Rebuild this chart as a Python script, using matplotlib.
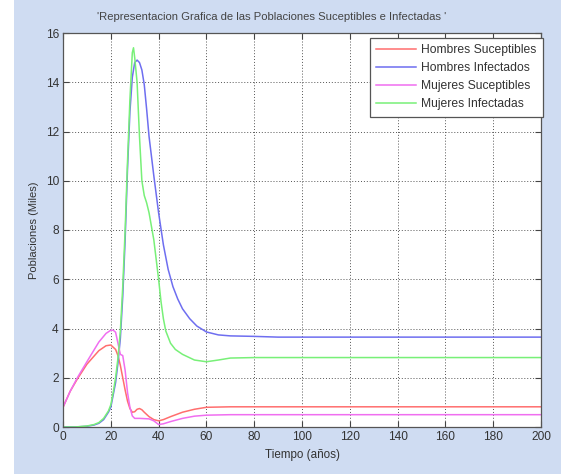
import numpy as np
import matplotlib
matplotlib.use("Agg")
import matplotlib.pyplot as plt
from matplotlib.patches import Rectangle

plt.rcParams['font.family'] = ['Liberation Sans', 'DejaVu Sans']

# Hombres Suceptibles: time (years) and population (thousands)
t_hs = [0, 3, 6, 10, 15, 18, 20, 22, 23, 24, 25, 26, 27, 28, 29, 30, 31, 32, 33, 34,
        36, 38, 40, 42, 45, 50, 55, 60, 70, 200]
hombres_suc = [0.8, 1.45, 1.95, 2.55, 3.1, 3.3, 3.33, 3.15, 2.9, 2.5, 2.0, 1.5, 1.05,
               0.75, 0.6, 0.62, 0.72, 0.75, 0.7, 0.6, 0.42, 0.3, 0.25, 0.3, 0.42, 0.6,
               0.72, 0.8, 0.82, 0.82]

# Hombres Infectados
t_hi = [0, 5, 10, 13, 15, 17, 19, 20, 21, 22, 23, 24, 25, 26, 27, 28, 29, 30, 31, 32,
        33, 34, 35, 36, 38, 40, 42, 44, 46, 48, 50, 53, 56, 60, 65, 70, 80, 90, 200]
hombres_inf = [0.0, 0.0, 0.03, 0.08, 0.15, 0.3, 0.6, 0.8, 1.3, 1.8, 2.6, 3.6, 5.3, 7.6,
               10.5, 12.8, 14.2, 14.8, 14.9, 14.8, 14.5, 13.9, 12.9, 11.8, 10.2, 8.7,
               7.4, 6.4, 5.7, 5.2, 4.8, 4.4, 4.1, 3.86, 3.74, 3.7, 3.68, 3.65, 3.65]

# Mujeres Suceptibles
t_ms = [0, 3, 6, 10, 15, 18, 20, 21, 22, 23, 24, 25, 26, 27, 28, 29, 30, 32, 34, 36,
        38, 40, 42, 45, 50, 55, 60, 70, 200]
mujeres_suc = [0.8, 1.45, 2.0, 2.65, 3.45, 3.8, 3.93, 3.93, 3.85, 3.4, 2.95, 2.9, 2.3,
               1.4, 0.8, 0.45, 0.35, 0.35, 0.34, 0.33, 0.25, 0.1, 0.13, 0.22, 0.35,
               0.44, 0.48, 0.5, 0.5]

# Mujeres Infectadas
t_mi = [0, 5, 10, 13, 15, 17, 19, 20, 21, 22, 23, 24, 25, 26, 27, 28, 29, 29.5, 30, 31,
        32, 33, 34, 35, 36, 38, 40, 41, 42, 43, 45, 47, 50, 55, 60, 65, 70, 80, 200]
mujeres_inf = [0.0, 0.0, 0.04, 0.1, 0.18, 0.35, 0.65, 0.9, 1.4, 2.0, 2.8, 3.9, 5.7, 8.0,
               10.8, 13.3, 15.2, 15.4, 15.0, 14.0, 11.8, 10.0, 9.4, 9.1, 8.7, 7.6, 6.0,
               5.1, 4.4, 3.9, 3.4, 3.15, 2.95, 2.72, 2.65, 2.72, 2.8, 2.82, 2.82]

labels = ['Hombres Suceptibles', 'Hombres Infectados',
          'Mujeres Suceptibles', 'Mujeres Infectadas']
colors = ['#ff6e6e', '#6e6ef0', '#f06ef0', '#78f078']

x_ticks = list(range(0, 201, 20))
y_ticks = list(range(0, 17, 2))

W, H = 561, 474
fig = plt.figure(figsize=(W / 100, H / 100), dpi=100)
fig.patch.set_facecolor('#cfdcf2')
fig.patches.append(Rectangle((0, 0), 14 / W, 1, transform=fig.transFigure,
                             facecolor='white', edgecolor='none', zorder=-1))

ax = fig.add_axes([63 / W, (H - 427) / H, (541 - 63) / W, (427 - 33) / H])
ax.set_facecolor('white')

series = [(t_hs, hombres_suc), (t_hi, hombres_inf), (t_ms, mujeres_suc), (t_mi, mujeres_inf)]
for (tt, y), c, lab in zip(series, colors, labels):
    ax.plot(tt, y, color=c, lw=1.1, label=lab)

ax.set_xlim(0, 200)
ax.set_ylim(0, 16)
ax.set_xticks(x_ticks)
ax.set_yticks(y_ticks)
ax.tick_params(direction='in', top=True, right=True, length=4, width=0.8,
               labelsize=8.6, colors='#444444', labelcolor='#333333', pad=3)
for s in ax.spines.values():
    s.set_color('#555555')
    s.set_linewidth(0.9)
ax.grid(True, linestyle=(0, (1, 2)), color='#555555', linewidth=0.7)
ax.set_axisbelow(True)

ax.set_xlabel('Tiempo (años)', fontsize=8.4, color='#333333', labelpad=4)
ax.set_ylabel('Poblaciones (Miles)', fontsize=8.0, color='#333333', labelpad=5)

fig.text(272 / W, 1 - 17 / H,
         "'Representacion Grafica de las Poblaciones Suceptibles e Infectadas '",
         ha='center', va='center', fontsize=8.1, color='#444444')

leg = ax.legend(loc='upper right', bbox_to_anchor=(1.004, 0.988), fontsize=8.7,
                handlelength=3.3, handletextpad=0.4, labelspacing=0.5,
                borderpad=0.55, borderaxespad=0.0, fancybox=False, framealpha=1,
                edgecolor='#555555')
leg.get_frame().set_linewidth(0.9)
for txt in leg.get_texts():
    txt.set_color('#333333')

fig.savefig('out.png', dpi=100, facecolor=fig.get_facecolor())
